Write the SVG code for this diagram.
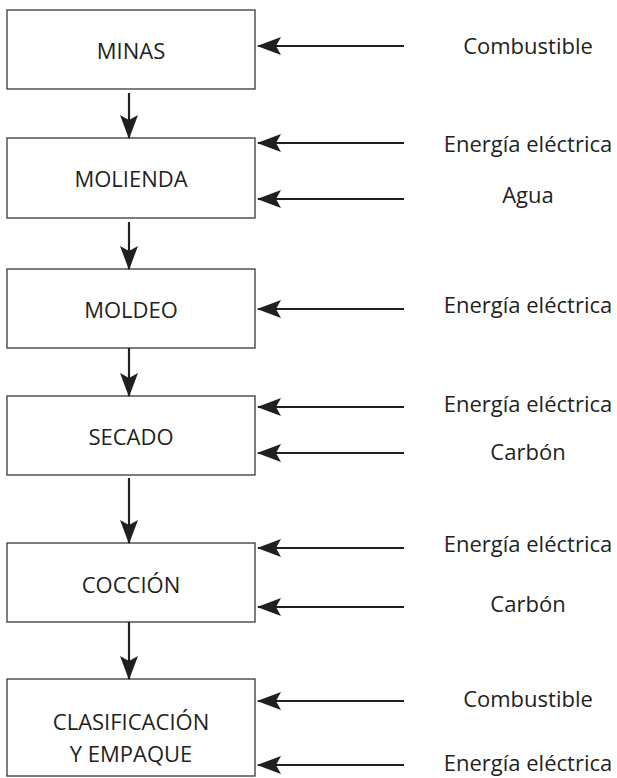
<svg xmlns="http://www.w3.org/2000/svg" width="617" height="778" viewBox="0 0 617 778">
  <defs>
    <style>
      .box { fill: #ffffff; stroke: #3a3738; stroke-width: 1.3; }
      .lbl { font-family: "Open Sans", "Liberation Sans", sans-serif; font-size: 22px; fill: #231f20; text-anchor: middle; }
      .flow { stroke: #231f20; stroke-width: 2.2; fill: none; }
    </style>
    <marker id="head" viewBox="0 0 24 18" refX="23" refY="9" markerWidth="24" markerHeight="18" markerUnits="userSpaceOnUse" orient="auto">
      <path d="M0,0 L24,9 L0,18 L5,9 Z" fill="#231f20"/>
    </marker>
  </defs>
  <rect width="617" height="778" fill="#ffffff"/>

  <!-- process steps -->
  <g id="minas">
    <rect class="box" x="7" y="10" width="248" height="79"/>
    <text class="lbl" x="131" y="59">MINAS</text>
  </g>
  <g id="molienda">
    <rect class="box" x="7" y="138" width="248" height="80"/>
    <text class="lbl" x="131" y="187">MOLIENDA</text>
  </g>
  <g id="moldeo">
    <rect class="box" x="7" y="269" width="248" height="79"/>
    <text class="lbl" x="131" y="318">MOLDEO</text>
  </g>
  <g id="secado">
    <rect class="box" x="7" y="396" width="248" height="79"/>
    <text class="lbl" x="131" y="445">SECADO</text>
  </g>
  <g id="coccion">
    <rect class="box" x="7" y="543" width="248" height="79"/>
    <text class="lbl" x="131" y="593">COCCIÓN</text>
  </g>
  <g id="clasificacion">
    <rect class="box" x="7" y="679" width="248" height="97"/>
    <text class="lbl" x="131" y="730">CLASIFICACIÓN</text>
    <text class="lbl" x="131" y="762">Y EMPAQUE</text>
  </g>

  <!-- inputs -->
  <g id="inputs">
    <text class="lbl" x="528" y="54">Combustible</text>
    <text class="lbl" x="528" y="152">Energía eléctrica</text>
    <text class="lbl" x="528" y="203">Agua</text>
    <text class="lbl" x="528" y="313">Energía eléctrica</text>
    <text class="lbl" x="528" y="412">Energía eléctrica</text>
    <text class="lbl" x="528" y="460">Carbón</text>
    <text class="lbl" x="528" y="552">Energía eléctrica</text>
    <text class="lbl" x="528" y="612">Carbón</text>
    <text class="lbl" x="528" y="707">Combustible</text>
    <text class="lbl" x="528" y="771">Energía eléctrica</text>
  </g>

  <!-- connectors -->
  <g id="connectors">
    <line class="flow" x1="129" y1="93" x2="129" y2="138" marker-end="url(#head)"/>
    <line class="flow" x1="129" y1="222" x2="129" y2="269" marker-end="url(#head)"/>
    <line class="flow" x1="129" y1="348" x2="129" y2="396" marker-end="url(#head)"/>
    <line class="flow" x1="129" y1="478" x2="129" y2="543" marker-end="url(#head)"/>
    <line class="flow" x1="129" y1="622" x2="129" y2="679" marker-end="url(#head)"/>

    <line class="flow" x1="404" y1="46" x2="258" y2="46" marker-end="url(#head)"/>
    <line class="flow" x1="404" y1="143" x2="258" y2="143" marker-end="url(#head)"/>
    <line class="flow" x1="404" y1="199" x2="258" y2="199" marker-end="url(#head)"/>
    <line class="flow" x1="404" y1="309" x2="258" y2="309" marker-end="url(#head)"/>
    <line class="flow" x1="404" y1="407" x2="258" y2="407" marker-end="url(#head)"/>
    <line class="flow" x1="404" y1="453" x2="258" y2="453" marker-end="url(#head)"/>
    <line class="flow" x1="404" y1="548" x2="258" y2="548" marker-end="url(#head)"/>
    <line class="flow" x1="404" y1="607" x2="258" y2="607" marker-end="url(#head)"/>
    <line class="flow" x1="404" y1="701" x2="258" y2="701" marker-end="url(#head)"/>
    <line class="flow" x1="404" y1="765" x2="258" y2="765" marker-end="url(#head)"/>
  </g>
</svg>
